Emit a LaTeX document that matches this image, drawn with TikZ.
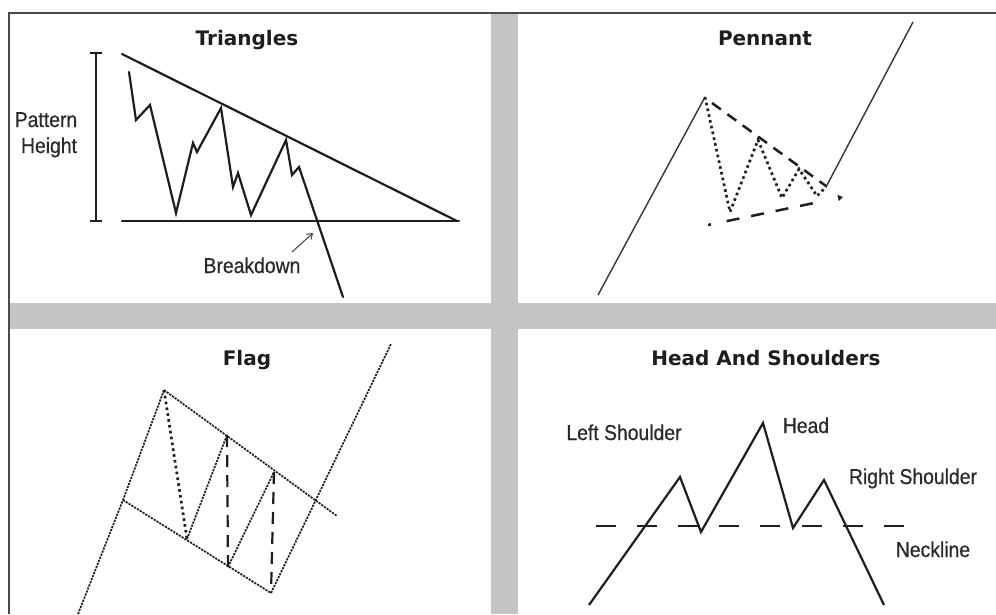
\documentclass[tikz,border=0pt]{standalone}
\usepackage{fontspec}
\usetikzlibrary{arrows.meta}
\newfontfamily\titlefam{DejaVu Sans}
\newfontfamily\labfam[FakeStretch=0.9,FakeBold=0.6]{Liberation Sans}
\definecolor{ink}{HTML}{1E1E1E}
\definecolor{labcol}{HTML}{2A2A2A}
\definecolor{barcol}{HTML}{C4C4C4}
\definecolor{framecol}{HTML}{4A4A4A}
\tikzset{
  ttl/.style={font=\titlefam\bfseries\fontsize{20}{24}\selectfont, text=ink, anchor=base, inner sep=0pt},
  lbl/.style={font=\labfam\fontsize{21.5}{24}\selectfont, text=labcol, anchor=base, inner sep=0pt},
  price/.style={draw=ink, line width=2.2pt, line join=miter, line cap=round},
  thinsolid/.style={draw=ink!90, line width=1.4pt},
  finedot/.style={draw=ink, line width=1.7pt, dash pattern=on 2.2pt off 1.1pt},
  heavydot/.style={draw=ink, line width=2.7pt, dash pattern=on 2.6pt off 3.3pt},
  heavydash/.style={draw=ink, line width=2.2pt, dash pattern=on 12pt off 8pt},
  trendash/.style={draw=ink, line width=2.5pt, dash pattern=on 11pt off 8pt},
  neck/.style={draw=ink, line width=2pt, dash pattern=on 20pt off 21.1pt},
  bar/.style={fill=barcol, draw=none},
}
\begin{document}
\begin{tikzpicture}[x=1pt, y=-1pt]
\useasboundingbox (0,0) rectangle (996,614);
\fill[white] (0,0) rectangle (996,614);
% gray separator bars
\fill[bar] (491,13) rectangle (518,614);
\fill[bar] (9,303) rectangle (996,329);
% frame
\draw[framecol, line width=1.5pt] (9,614) -- (9,13) -- (996,13);

% ---------- Triangles ----------
\node[ttl] (t1) at (247,45) {Triangles};
\draw[price, line cap=butt] (90,53) -- (102,53);
\draw[price, line cap=butt] (90,221) -- (102,221);
\draw[price, line cap=butt] (96,53) -- (96,221);
\node[lbl] (ph1) at (46,127) {Pattern};
\node[lbl] (ph2) at (49,153) {Height};
\draw[price] (122,54) -- (457,221);
\draw[price] (122,221) -- (459,221);
\draw[price] (129,72) -- (136,120) -- (150,105) -- (176,213) -- (193,143) -- (197,152)
  -- (221,108) -- (233,187) -- (238,173) -- (251,215) -- (286,140) -- (292,175)
  -- (299,167) -- (343,297);
\node[lbl] (bd) at (252,273) {Breakdown};
\draw[ink!85, line width=1pt, -{Straight Barb[length=5pt,width=7pt]}] (292,252) -- (313,233);

% ---------- Pennant ----------
\node[ttl] (t2) at (765,45) {Pennant};
\draw[thinsolid] (598,295) -- (705,97);
\draw[heavydot] (705,97) -- (730,212) -- (758,140) -- (782,198) -- (799,169) -- (817,196) -- (826,187);
\draw[thinsolid] (826,187) -- (913,22);
\draw[trendash] (712,103) -- (826,186);
\draw[draw=ink, line width=2.5pt, dash pattern=on 3pt off 16pt on 13pt off 12pt on 13pt off 12pt on 13pt off 12pt on 13pt off 40pt,
  -{Triangle[length=5pt,width=6pt]}] (708,225) -- (843,197);

% ---------- Flag ----------
\node[ttl] (t3) at (247,365) {Flag};
\draw[finedot] (78,614) -- (123,500) -- (164,390);
\draw[finedot] (164,390) -- (337,516);
\draw[finedot] (123,500) -- (271,593);
\draw[finedot] (271,593) -- (391,344);
\draw[heavydot] (164,390) -- (187,539);
\draw[finedot] (187,539) -- (227,435);
\draw[heavydash] (227,435) -- (228,567);
\draw[finedot] (228,567) -- (274,472);
\draw[heavydash] (274,472) -- (271,593);

% ---------- Head and Shoulders ----------
\node[ttl] (t4) at (766,365) {Head And Shoulders};
\draw[neck] (596,526) -- (904,526);
\draw[price, line cap=butt] (589,605) -- (680,477) -- (701,532) -- (763,423) -- (793,528) -- (824,480) -- (884,605);
\node[lbl] (ls) at (624,440) {Left Shoulder};
\node[lbl] (hd) at (806,433) {Head};
\node[lbl] (rs) at (913,484) {Right Shoulder};
\node[lbl] (nl) at (933,557) {Neckline};
\end{tikzpicture}
\end{document}
